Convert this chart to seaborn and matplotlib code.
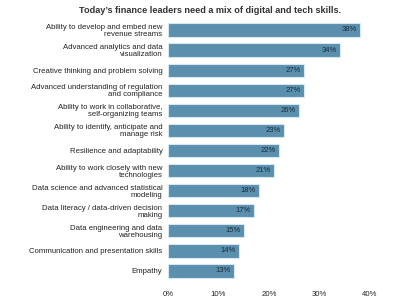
import matplotlib
matplotlib.use("Agg")
import matplotlib.pyplot as plt
import seaborn as sns
import pandas as pd

skills = [
    "Ability to develop and embed new\nrevenue streams",
    "Advanced analytics and data\nvisualization",
    "Creative thinking and problem solving",
    "Advanced understanding of regulation\nand compliance",
    "Ability to work in collaborative,\nself-organizing teams",
    "Ability to identify, anticipate and\nmanage risk",
    "Resilience and adaptability",
    "Ability to work closely with new\ntechnologies",
    "Data science and advanced statistical\nmodeling",
    "Data literacy / data-driven decision\nmaking",
    "Data engineering and data\nwarehousing",
    "Communication and presentation skills",
    "Empathy",
]
values = [38, 34, 27, 27, 26, 23, 22, 21, 18, 17, 15, 14, 13]
xticks = [0, 10, 20, 30, 40]
xtick_labels = ["0%", "10%", "20%", "30%", "40%"]
title = "Today\u2019s finance leaders need a mix of digital and tech skills."

df = pd.DataFrame({"skill": skills, "value": values})

sns.set_theme(style="white")
plt.rcParams["font.family"] = ["Liberation Sans", "DejaVu Sans"]

fig = plt.figure(figsize=(4.0, 3.02), dpi=100)
ax = fig.add_axes([0.42, 0.0695, 0.505, 0.8645])

sns.barplot(data=df, x="value", y="skill", color="#5b8fae", saturation=1,
            width=0.66, edgecolor="#d6e8f2", linewidth=0.8, ax=ax)

for i, v in enumerate(values):
    ax.text(v - 0.6, i, f"{v}%", ha="right", va="center", fontsize=5.5,
            color="#1c2b3a")

ax.set_xlim(0, 40)
ax.set_ylim(12.5, -0.5)
ax.set_xticks(xticks)
ax.set_xticklabels(xtick_labels, fontsize=5.6, color="#222222")
ax.set_yticklabels(skills, fontsize=5.6, color="#222222", linespacing=1.0)
ax.tick_params(axis="both", length=0)
ax.tick_params(axis="x", pad=7)
ax.tick_params(axis="y", pad=4)
ax.set_xlabel("")
ax.set_ylabel("")
for s in ax.spines.values():
    s.set_visible(False)

fig.text(0.525, 0.965, title, ha="center", va="center", fontsize=6.6,
         color="#333333", fontweight="bold")

fig.savefig("out.png", dpi=100)
